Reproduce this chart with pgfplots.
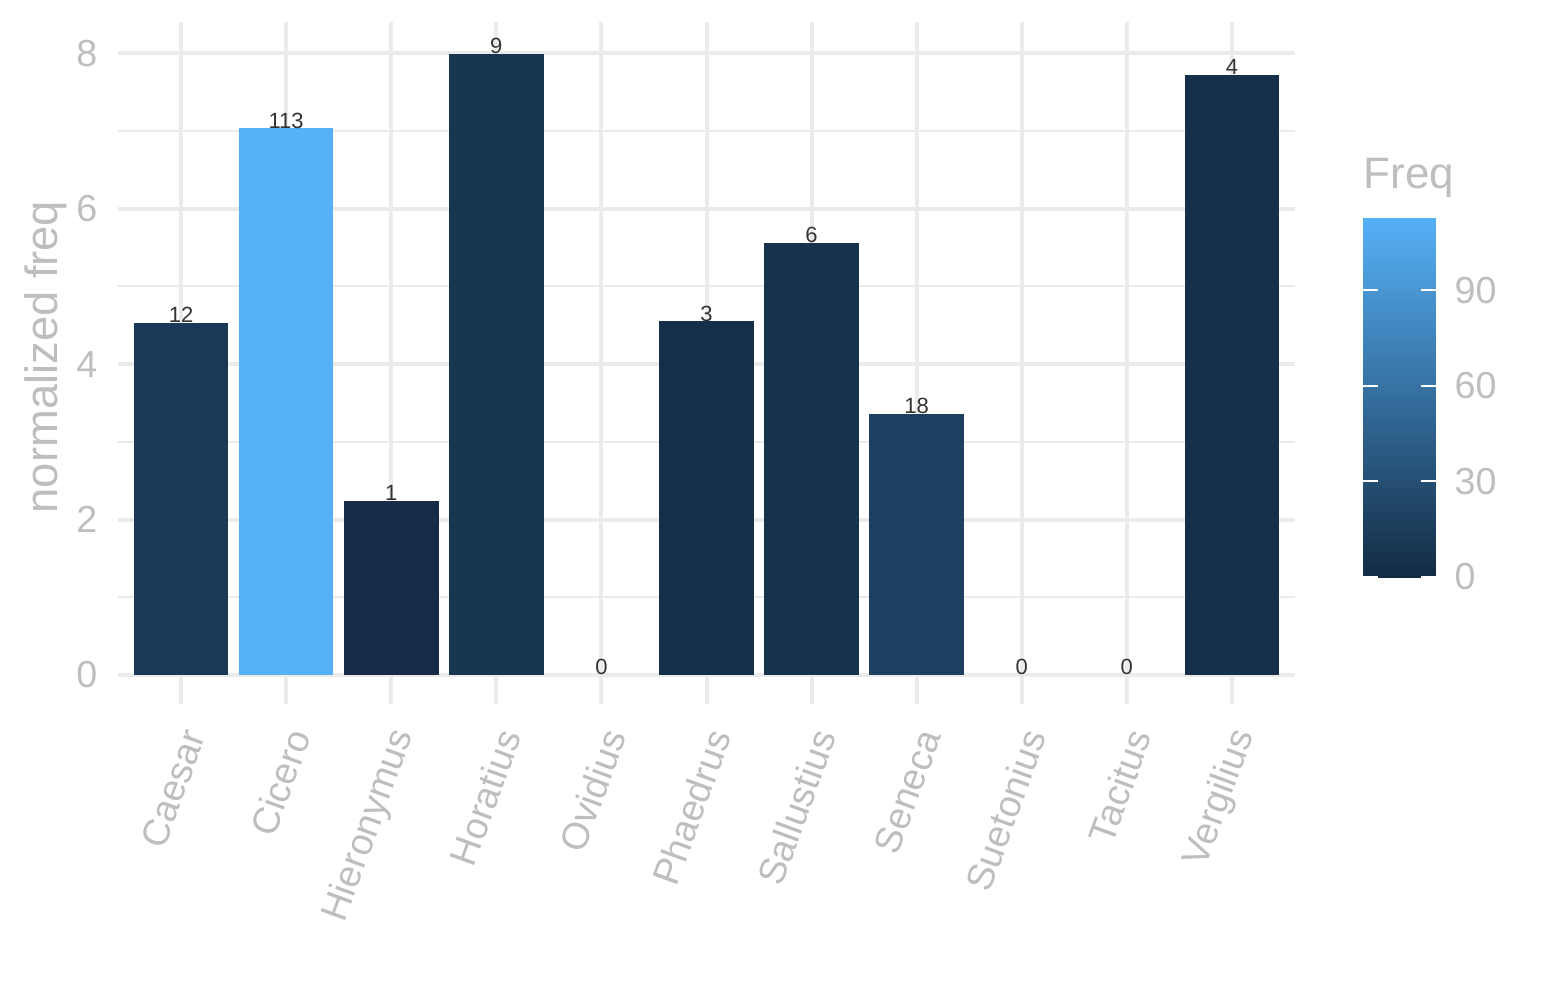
\documentclass[border=0pt]{standalone}
\usepackage{pgfplots}
\pgfplotsset{compat=1.18}
\usepackage{fontspec}
\setmainfont{Liberation Sans}

\definecolor{txtgray}{HTML}{BEBEBE}
\definecolor{gridgray}{HTML}{EBEBEB}
\definecolor{labeldark}{HTML}{333333}
% fill colours, low #132B43 -> high #56B1F7 over freq 0..113
\definecolor{f1}{RGB}{20,44,69}
\definecolor{f3}{RGB}{21,47,72}
\definecolor{f4}{RGB}{21,48,73}
\definecolor{f6}{RGB}{23,50,77}
\definecolor{f9}{RGB}{24,54,81}
\definecolor{f12}{RGB}{26,57,86}
\definecolor{f18}{RGB}{30,64,96}
\definecolor{f113}{RGB}{86,177,247}

\pgfplotsset{
  /pgf/number format/assume math mode=true,
  freqbar/.style={ybar, bar width=0.9, bar shift=0pt, draw=none, fill=#1},
}

\begin{document}
\begin{tikzpicture}
\path[use as bounding box] (0pt,0pt) rectangle (463.5pt,300pt);
\begin{axis}[
  at={(35.4pt,97.5pt)}, anchor=south west,
  scale only axis, width=353.1pt, height=195.9pt,
  xmin=0.4, xmax=11.6, ymin=0, ymax=8.4,
  axis x line*=bottom, axis y line*=left,
  x axis line style={gridgray, line width=1.2pt},
  y axis line style={draw=none},
  xtick={1,...,11},
  xticklabels={Caesar,Cicero,Hieronymus,Horatius,Ovidius,Phaedrus,Sallustius,Seneca,Suetonius,Tacitus,Vergilius},
  ytick={0,2,4,6,8}, minor ytick={1,3,5,7},
  xmajorgrids, ymajorgrids, yminorgrids,
  major grid style={gridgray, line width=1.2pt},
  minor grid style={gridgray, line width=0.6pt},
  tick align=outside,
  major tick length=8.7pt,
  xtick style={gridgray, line width=1.2pt},
  ytick style={draw=none},
  ticklabel style={text=txtgray, font=\fontsize{11.3}{13}\selectfont},
  xticklabel style={xshift=3.9pt, yshift=-8.1pt, rotate=70, anchor=east, inner sep=0pt},
  yticklabel style={xshift=2.7pt, anchor=east, inner sep=0pt},
  ylabel={normalized freq},
  every axis y label/.style={at={(axis description cs:-0.051,0.487)}, rotate=90, anchor=base,
    text=txtgray, font=\fontsize{13.6}{15}\selectfont},
  colormap={freqmap}{rgb255=(19,43,67) rgb255=(86,177,247)},
  point meta min=0, point meta max=113,
  colorbar, colorbar/width=21.9pt,
  colorbar style={
    at={(parent axis.north east)}, anchor=north west,
    xshift=11.86pt, yshift=-58.5pt,
    scale only axis, height=108pt,
    ytick={0,30,60,90},
    axis line style={draw=none},
    ytick style={draw=none}, major tick length=0pt,
    yticklabel pos=right,
    yticklabel style={text=txtgray, font=\fontsize{11.3}{13}\selectfont, anchor=west,
      inner sep=0pt, xshift=5.4pt},
    title={Freq},
    title style={at={(axis description cs:0,1)}, anchor=base west, inner sep=0pt,
      yshift=2.7pt, text=txtgray, font=\fontsize{13.2}{15}\selectfont},
    % white tick marks on both edges of the bar
    after end axis/.code={
      \foreach \v in {0,30,60,90} {
        \draw[white, line width=0.6pt] (axis cs:0,\v) -- ++(4.5pt,0pt);
        \draw[white, line width=0.6pt] (axis cs:1,\v) -- ++(-4.5pt,0pt);
      }
    },
  },
]
\addplot[freqbar=f12]  coordinates {(1,4.53)};
\addplot[freqbar=f113] coordinates {(2,7.035)};
\addplot[freqbar=f1]   coordinates {(3,2.24)};
\addplot[freqbar=f9]   coordinates {(4,7.99)};
\addplot[freqbar=f3]   coordinates {(6,4.55)};
\addplot[freqbar=f6]   coordinates {(7,5.56)};
\addplot[freqbar=f18]  coordinates {(8,3.36)};
\addplot[freqbar=f4]   coordinates {(11,7.72)};

% raw frequencies written on the bars
\addplot[draw=none, nodes near coords, point meta=explicit symbolic,
  nodes near coords style={anchor=base, inner sep=0pt, text=labeldark,
    font=\fontsize{6.6}{7}\selectfont}]
  coordinates {(1,4.53)[12] (2,7.035)[113] (3,2.24)[1] (4,7.99)[9] (5,0)[0] (6,4.55)[3]
    (7,5.56)[6] (8,3.36)[18] (9,0)[0] (10,0)[0] (11,7.72)[4]};
\end{axis}
\end{tikzpicture}
\end{document}
